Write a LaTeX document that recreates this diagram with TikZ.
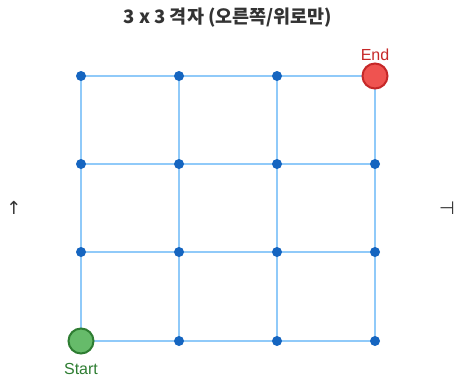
\documentclass[tikz,border=0pt]{standalone}
\usepackage{fontspec}
\setmainfont{Liberation Sans}
\newfontfamily\krfont{Noto Sans CJK KR}
\newfontfamily\symfont{DejaVu Sans}
\definecolor{gridline}{HTML}{90CAF9}
\definecolor{dotblue}{HTML}{1565C0}
\definecolor{startfill}{HTML}{66BB6A}
\definecolor{startdraw}{HTML}{2E7D32}
\definecolor{endfill}{HTML}{EF5350}
\definecolor{enddraw}{HTML}{C62828}
\definecolor{titlegray}{HTML}{333333}
\begin{document}
\begin{tikzpicture}[x=1pt,y=-1pt,
  gline/.style={draw=gridline,line width=1.6pt},
  gdot/.style={circle,fill=dotblue,inner sep=0pt,minimum size=10pt},
  startnode/.style={circle,fill=startfill,draw=startdraw,line width=2pt,inner sep=0pt,minimum size=25pt},
  endnode/.style={circle,fill=endfill,draw=enddraw,line width=2pt,inner sep=0pt,minimum size=25pt},
  lbl/.style={font=\fontsize{16}{18}\selectfont,inner sep=0pt}]
\useasboundingbox (0,0) rectangle (455,378);
% grid nodes
\foreach \c/\x in {0/81,1/179,2/277,3/375}{
  \foreach \r/\y in {0/341,1/252,2/164,3/76}{
    \coordinate (p\c\r) at (\x,\y);
  }
}
% grid lines
\foreach \r in {0,1,2,3}{ \draw[gline] (p0\r) -- (p3\r); }
\foreach \c in {0,1,2,3}{ \draw[gline] (p\c0) -- (p\c3); }
% dots
\foreach \c in {0,1,2,3}{
  \foreach \r in {0,1,2,3}{
    \node[gdot] (d\c\r) at (p\c\r) {};
  }
}
\node[startnode] (start) at (p00) {};
\node[endnode] (end) at (p33) {};
\node[lbl,text=startdraw,anchor=base] (startlbl) at (81,374) {Start};
\node[lbl,text=enddraw,anchor=base] (endlbl) at (375,60) {End};
% title
\node[inner sep=0pt,text=titlegray] (title) at (228,18) {\krfont\bfseries\fontsize{18.5}{20}\selectfont 3 x 3 격자 (오른쪽/위로만)};
% side markers
\node[inner sep=0pt,text=titlegray] (up) at (14,208) {\symfont\fontsize{18}{20}\selectfont ↑};
\node[inner sep=0pt,text=titlegray] (right) at (447,208) {\symfont\fontsize{18}{20}\selectfont ⊣};
\end{tikzpicture}
\end{document}
